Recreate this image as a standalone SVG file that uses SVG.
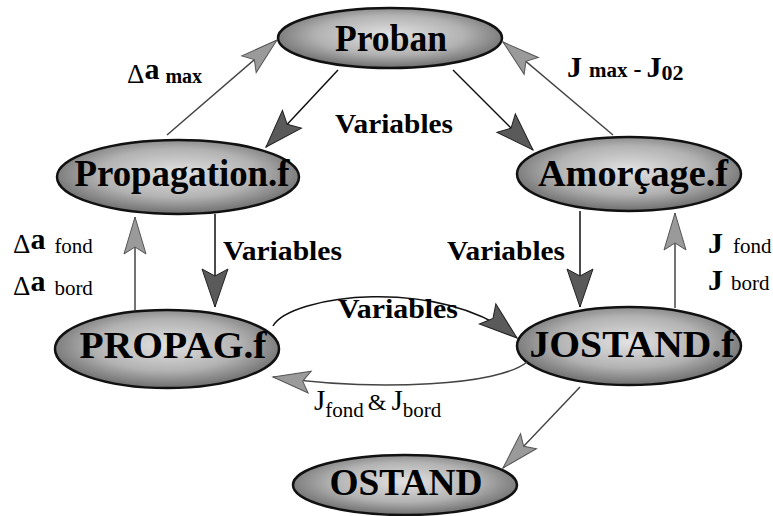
<svg xmlns="http://www.w3.org/2000/svg" width="773" height="516" viewBox="0 0 773 516">
<style>
.node{fill:url(#g);stroke:#111;stroke-width:2.5}
.nt{font-weight:bold;font-size:38px;fill:#000;text-anchor:middle}
.lb{font-weight:bold;fill:#000}
.rg{font-weight:normal;fill:#000}
.dk{fill:none;stroke:#111;stroke-width:1.5}
.lt{fill:none;stroke:#444;stroke-width:1.5}
</style>
<defs>
<radialGradient id="g" cx="50%" cy="45%" r="55%">
<stop offset="0" stop-color="#e2e2e2"/>
<stop offset="0.6" stop-color="#b2b2b2"/>
<stop offset="1" stop-color="#6e6e6e"/>
</radialGradient>
<marker id="ad" markerUnits="userSpaceOnUse" viewBox="-40 -15 42 30" refX="0" refY="0" markerWidth="42" markerHeight="30" orient="auto">
<path d="M0,0 L-38,-13 L-31,0 L-38,13 Z" fill="#5a5a5a" stroke="#222" stroke-width="1"/>
</marker>
<marker id="al" markerUnits="userSpaceOnUse" viewBox="-40 -15 42 30" refX="0" refY="0" markerWidth="42" markerHeight="30" orient="auto">
<path d="M0,0 L-37,-11 L-30,0 L-37,11 Z" fill="#9a9a9a" stroke="#555" stroke-width="1"/>
</marker>
</defs>
<rect width="773" height="516" fill="#fff"/>
<g font-family="'Times New Roman', 'Liberation Serif', Tinos, 'DejaVu Serif', serif">
<g id="proban"><ellipse class="node" cx="390" cy="38" rx="112" ry="30"/><text class="nt" x="391" y="51" textLength="112" lengthAdjust="spacingAndGlyphs">Proban</text></g>
<g id="propagation"><ellipse class="node" cx="178" cy="177" rx="121" ry="37"/><text class="nt" x="182" y="186" textLength="215" lengthAdjust="spacingAndGlyphs">Propagation.f</text></g>
<g id="amorcage"><ellipse class="node" cx="629" cy="174" rx="112" ry="37"/><text class="nt" x="633" y="186" textLength="190" lengthAdjust="spacingAndGlyphs">Amorçage.f</text></g>
<g id="propag"><ellipse class="node" cx="167" cy="349" rx="112" ry="39"/><text class="nt" x="173" y="358" textLength="187" lengthAdjust="spacingAndGlyphs">PROPAG.f</text></g>
<g id="jostand"><ellipse class="node" cx="629" cy="346" rx="112" ry="39"/><text class="nt" x="632" y="357" textLength="205" lengthAdjust="spacingAndGlyphs">JOSTAND.f</text></g>
<g id="ostand"><ellipse class="node" cx="405" cy="485" rx="112" ry="30"/><text class="nt" x="406" y="495" textLength="153" lengthAdjust="spacingAndGlyphs">OSTAND</text></g>
<g id="connectors">
<line class="lt" x1="167" y1="135" x2="277" y2="40" marker-end="url(#al)"/>
<line class="dk" x1="338" y1="70" x2="266" y2="147" marker-end="url(#ad)"/>
<line class="dk" x1="453" y1="70" x2="533" y2="150" marker-end="url(#ad)"/>
<line class="lt" x1="613" y1="135" x2="503" y2="42" marker-end="url(#al)"/>
<line class="lt" x1="135" y1="310" x2="135" y2="217" marker-end="url(#al)"/>
<line class="dk" x1="215" y1="214" x2="215" y2="307" marker-end="url(#ad)"/>
<line class="dk" x1="580" y1="211" x2="580" y2="307" marker-end="url(#ad)"/>
<line class="lt" x1="675" y1="308" x2="675" y2="213" marker-end="url(#al)"/>
<path class="dk" d="M273,326 C290,295 440,275 517,338" marker-end="url(#ad)"/>
<path class="lt" d="M527,362 C500,385 380,392 273,377" marker-end="url(#al)"/>
<line class="lt" x1="580" y1="387" x2="503" y2="468" marker-end="url(#al)"/>
</g>
<g id="labels">
<text x="127" y="83"><tspan class="rg" font-size="27">Δ</tspan><tspan class="lb" font-size="30" dy="-4">a</tspan><tspan class="lb" font-size="20" dx="6" dy="4">max</tspan></text>
<text class="lb" x="335" y="133" font-size="28" textLength="118" lengthAdjust="spacingAndGlyphs">Variables</text>
<text x="567" y="77"><tspan class="lb" font-size="30">J</tspan><tspan class="lb" font-size="21" dx="7">max</tspan><tspan class="lb" font-size="24" dx="6">-</tspan><tspan class="lb" font-size="30" dx="5">J</tspan><tspan class="lb" font-size="22" dy="3">02</tspan></text>
<text class="lb" x="223" y="260" font-size="28" textLength="119" lengthAdjust="spacingAndGlyphs">Variables</text>
<text class="lb" x="447" y="260" font-size="28" textLength="118" lengthAdjust="spacingAndGlyphs">Variables</text>
<text class="lb" x="338" y="318" font-size="28" textLength="120" lengthAdjust="spacingAndGlyphs">Variables</text>
<text x="13" y="253"><tspan class="rg" font-size="27">Δ</tspan><tspan class="lb" font-size="30" dy="-4">a</tspan><tspan class="rg" font-size="21" dx="9" dy="4">fond</tspan></text>
<text x="13" y="295"><tspan class="rg" font-size="27">Δ</tspan><tspan class="lb" font-size="30" dy="-4">a</tspan><tspan class="rg" font-size="21" dx="9" dy="4">bord</tspan></text>
<text x="708" y="253"><tspan class="lb" font-size="30">J</tspan><tspan class="rg" font-size="21" dx="10">fond</tspan></text>
<text x="708" y="290"><tspan class="lb" font-size="30">J</tspan><tspan class="rg" font-size="21" dx="8">bord</tspan></text>
<text x="314" y="410"><tspan class="rg" font-size="29">J</tspan><tspan class="rg" font-size="21" dy="7">fond</tspan><tspan class="rg" font-size="24" dx="4" dy="-7">&amp;</tspan><tspan class="rg" font-size="29" dx="5">J</tspan><tspan class="rg" font-size="21" dy="7">bord</tspan></text>
</g>
</g>
</svg>
